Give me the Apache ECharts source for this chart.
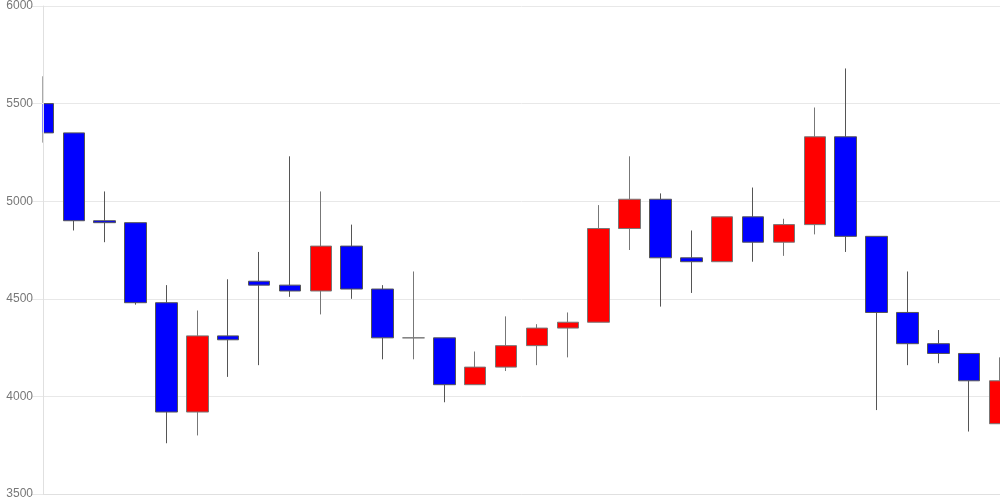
<!DOCTYPE html>
<html>
<head>
<meta charset="utf-8">
<script src="https://cdn.jsdelivr.net/npm/echarts@6/dist/echarts.min.js"></script>
<style>html,body{margin:0;padding:0;background:#fff}#c{width:1000px;height:500px}</style>
</head>
<body>
<div id="c"></div>
<script>
var categories = ['1','2','3','4','5','6','7','8','9','10','11','12','13','14','15','16','17','18','19','20','21','22','23','24','25','26','27','28','29','30','31','32'];
var openValues  = [5500,5350,4900,4890,4480,3920,4310,4590,4570,4540,4770,4550,4300,4300,4060,4150,4260,4350,4380,4860,5010,4710,4690,4920,4790,4880,5330,4820,4430,4270,4220,3860];
var closeValues = [5350,4900,4890,4480,3920,4310,4290,4570,4540,4770,4550,4300,4300,4060,4150,4260,4350,4380,4860,5010,4710,4690,4920,4790,4880,5330,4820,4430,4270,4220,4080,4080];
var lowValues   = [5300,4850,4790,4470,3760,3800,4100,4160,4510,4420,4500,4190,4190,3970,4060,4130,4160,4200,4380,4750,4460,4530,4690,4690,4720,4830,4740,3930,4160,4170,3820,3860];
var highValues  = [5640,5350,5050,4890,4570,4440,4600,4740,5230,5050,4880,4570,4640,4300,4230,4410,4370,4430,4980,5230,5040,4850,4920,5070,4910,5480,5680,4820,4640,4340,4220,4200];
var yTicks = [3500,4000,4500,5000,5500,6000];

var data = categories.map(function(c,i){return [openValues[i],closeValues[i],lowValues[i],highValues[i]];});
var chart = echarts.init(document.getElementById('c'));
var yMin = yTicks[0], yMax = yTicks[yTicks.length-1];
chart.setOption({
  animation:false,
  grid:{left:43,right:0,top:6,bottom:6},
  graphic:[{type:'rect',left:0,top:0,z:5,shape:{x:0,y:0,width:42.5,height:500},style:{fill:'#fff'}}],
  xAxis:{type:'category',data:categories,boundaryGap:false,
    axisLine:{show:true,lineStyle:{color:'#e0e0e0'}},axisTick:{show:false},axisLabel:{show:false},splitLine:{show:false}},
  yAxis:[
    {type:'value',min:yMin,max:yMax,interval:500,z:10,
      axisLine:{show:true,lineStyle:{color:'#e0e0e0'}},
      axisTick:{show:true,length:11,lineStyle:{color:'#e8e8e8'}},
      axisLabel:{color:'#777',fontSize:12,fontFamily:'Arial, Liberation Sans, sans-serif',margin:10,
        formatter:function(v){return String(v);}},
      splitLine:{show:false}},
    {type:'value',min:yMin,max:yMax,interval:500,z:0,position:'left',
      axisLine:{show:false},axisTick:{show:false},axisLabel:{show:false},
      splitLine:{show:true,lineStyle:{color:'#e8e8e8'}}}
  ],
  series:[{type:'candlestick',data:data,barWidth:22,clip:true,yAxisIndex:0,
    itemStyle:{color:'#ff0000',color0:'#0000ff',borderColor:'#777',borderColor0:'#555',borderWidth:1}}]
});
</script>
</body>
</html>
